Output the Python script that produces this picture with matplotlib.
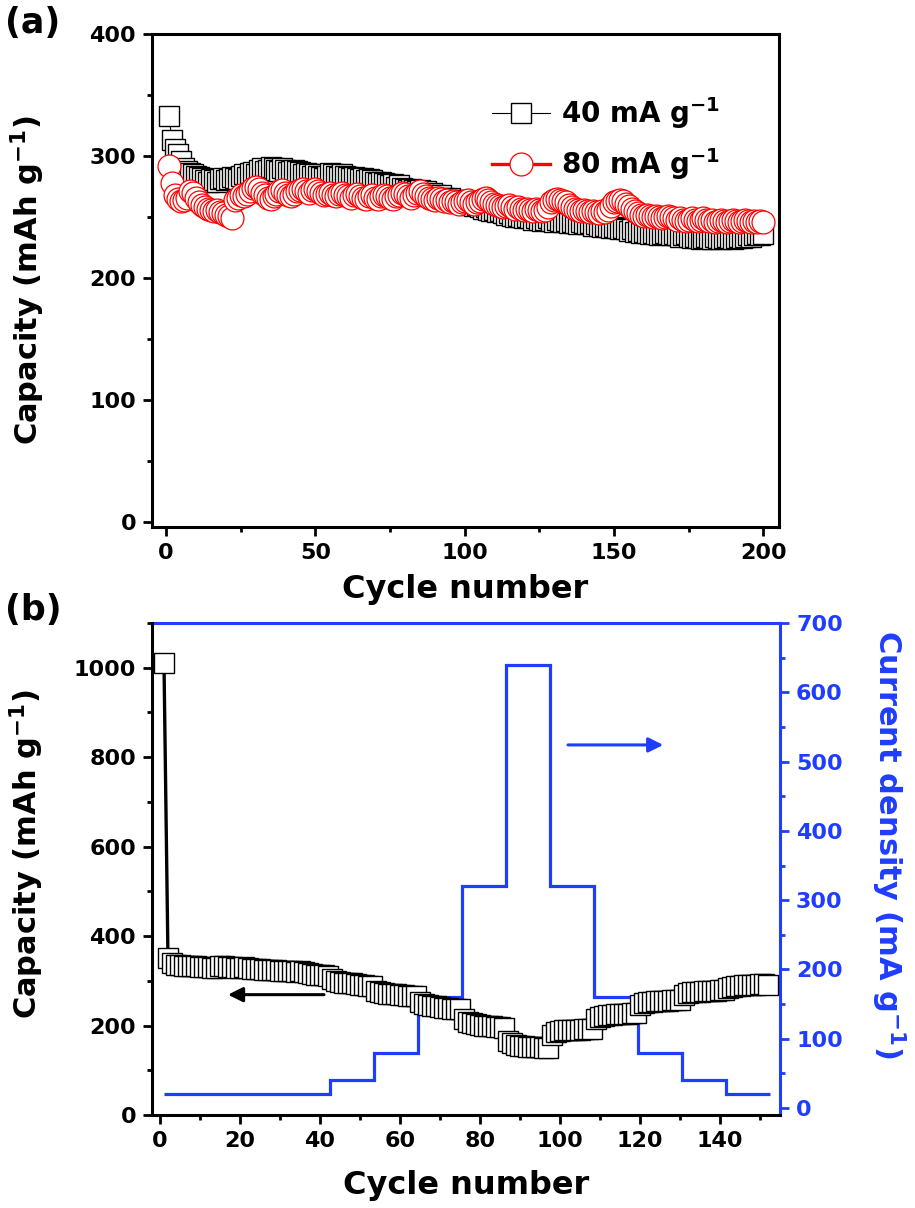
"""Cycling (a) and rate capability (b) plots"""

import numpy as np
import matplotlib
matplotlib.use("Agg")
import matplotlib.pyplot as plt
from matplotlib.ticker import MultipleLocator

# =============================================================================
# (a) cycling at 40 and 80 mA g-1
CAP_40 = [
    333, 313, 306, 302, 296, 290, 288, 286, 285, 284,
    283, 282, 280, 279, 281, 280, 279, 281, 282, 280,
    281, 283, 282, 281, 284, 285, 283, 286, 287, 285,
    289, 290, 288, 289, 291, 290, 289, 288, 290, 289,
    287, 288, 289, 288, 287, 285, 286, 285, 284, 285,
    284, 283, 282, 284, 286, 285, 284, 283, 285, 284,
    283, 282, 283, 282, 281, 282, 280, 281, 280, 279,
    278, 279, 278, 277, 276, 277, 275, 276, 274, 273,
    272, 273, 272, 271, 272, 270, 271, 269, 270, 268,
    267, 268, 266, 265, 266, 264, 263, 264, 262, 261,
    262, 260, 259, 260, 258, 257, 258, 256, 255, 256,
    254, 255, 253, 252, 253, 251, 250, 251, 250, 249,
    250, 249, 248, 249, 248, 247, 248, 249, 247, 246,
    248, 247, 246, 247, 245, 246, 245, 244, 246, 245,
    244, 245, 243, 244, 243, 242, 243, 242, 241, 242,
    241, 240, 241, 240, 239, 240, 238, 239, 237, 238,
    237, 236, 237, 236, 235, 236, 237, 236, 235, 236,
    235, 234, 235, 236, 234, 233, 234, 233, 232, 233,
    234, 233, 232, 234, 233, 232, 233, 234, 233, 232,
    233, 234, 233, 234, 235, 234, 235, 236, 235, 236,
]
CAP_80 = [
    292, 278, 268, 265, 263, 264, 266, 271, 270, 266,
    262, 260, 258, 257, 256, 255, 256, 254, 253, 252,
    251, 249, 264, 266, 268, 267, 269, 271, 274, 275,
    273, 270, 268, 266, 265, 267, 269, 271, 272, 270,
    268, 267, 269, 271, 272, 273, 271, 270, 272, 273,
    271, 270, 268, 269, 270, 268, 267, 269, 270, 268,
    267, 266, 268, 269, 267, 266, 265, 267, 268, 266,
    265, 267, 268, 267, 266, 265, 267, 268, 270, 269,
    267, 266, 268, 270, 271, 269, 267, 266, 265, 264,
    266, 265, 263, 264, 262, 263, 262, 261, 262, 263,
    264, 262, 261, 262, 263, 265, 266, 264, 262, 261,
    260, 259, 258, 259, 260, 258, 257, 258, 257, 256,
    257, 256, 255, 257, 256, 255, 256, 258, 262, 264,
    265, 264, 263, 262, 260, 258, 257, 256, 255, 256,
    255, 254, 255, 254, 253, 255, 254, 256, 259, 262,
    263, 264, 263, 261, 259, 257, 255, 253, 252, 251,
    252, 251, 250, 251, 250, 249, 250, 251, 250, 249,
    248, 249, 248, 247, 248, 249, 248, 247, 248, 249,
    248, 247, 248, 246, 247, 248, 247, 246, 247, 248,
    247, 246, 247, 248, 247, 246, 247, 246, 247, 246,
]
CYCLES_A = np.arange(1, len(CAP_40) + 1)
LABELS_A = [r"40 mA g$^{-1}$", r"80 mA g$^{-1}$"]

# (b) rate capability
CAP_RATE = [
    1010, 350,
    340, 336, 335, 333, 334, 332, 333, 331, 330, 331,
    329, 328, 332, 333, 331, 330, 329, 328, 330, 329,
    327, 326, 327, 325, 324, 325, 324, 322, 323, 322,
    321, 320, 321, 319, 318, 316, 314, 313, 312, 310,
    304, 300, 298, 296, 295, 294, 292, 291, 290, 289, 288,
    278, 274, 272, 271, 270, 270, 269, 268, 267, 266, 265,
    252, 248, 246, 244, 243, 242, 240, 239, 238, 237, 236,
    214, 208, 205, 203, 201, 200, 199, 198, 197, 196, 195,
    165, 160, 157, 155, 154, 153, 152, 151, 151, 150, 150,
    178, 185, 188, 189, 190, 190, 191, 191, 192, 192, 193,
    215, 220, 222, 223, 224, 225, 225, 226, 226, 227, 227,
    245, 250, 252, 253, 254, 254, 255, 255, 256, 256, 257,
    268, 272, 274, 275, 276, 277, 277, 278, 278, 279, 279,
    283, 286, 288, 289, 290, 290, 291, 291, 292, 292, 290,
]
CYCLES_B = np.arange(1, len(CAP_RATE) + 1)
CURRENT_EDGES = [1, 42.5, 53.5, 64.5, 75.5, 86.5, 97.5, 108.5, 119.5,
                 130.5, 141.5, 152.5]
CURRENT = [20, 40, 80, 160, 320, 640, 320, 160, 80, 40, 20]

BLUE = "#1f3dff"
DPI = 100

# =============================================================================
plt.rcParams["font.family"] = "DejaVu Sans"
plt.rcParams["font.weight"] = "bold"
plt.rcParams["mathtext.default"] = "bf"
plt.rcParams["axes.linewidth"] = 2.2


def style_ticks(ax, color="black"):
    ax.tick_params(which="major", direction="out", length=6.5, width=2.0,
                   labelsize=16, pad=5, color=color, labelcolor=color)
    ax.tick_params(which="minor", direction="out", length=3.5, width=2.0,
                   color=color)


fig = plt.figure(figsize=(915 / DPI, 1208 / DPI), dpi=DPI)

# -----------------------------------------------------------------------------
# Panel (a)
ax = fig.add_axes([0.1661, 0.5637, 0.6853, 0.4081])
ax.plot(CYCLES_A, CAP_40, "-s", color="black", lw=0.8, ms=15,
        mfc="white", mec="black", mew=1.0, label=LABELS_A[0])
ax.plot(CYCLES_A, CAP_80, "-o", color="red", lw=2.4, ms=16.5,
        mfc="white", mec="red", mew=0.9, label=LABELS_A[1])
ax.set_xlim(-4.7, 205.3)
ax.set_ylim(-4, 400)
ax.xaxis.set_major_locator(MultipleLocator(50))
ax.xaxis.set_minor_locator(MultipleLocator(25))
ax.yaxis.set_major_locator(MultipleLocator(100))
ax.yaxis.set_minor_locator(MultipleLocator(50))
ax.tick_params(top=False, right=False)
style_ticks(ax)
ax.set_xlabel("Cycle number", fontsize=23, fontweight="bold")
ax.set_ylabel(r"Capacity (mAh g$^{-1}$)", fontsize=22, fontweight="bold")
ax.xaxis.set_label_coords(0.5, -0.095)
ax.yaxis.set_label_coords(-0.168, 0.5)
ax.legend(loc="upper left", bbox_to_anchor=(0.52, 0.905), frameon=False,
          fontsize=20, handlelength=2.1, handletextpad=0.4,
          labelspacing=0.55, borderpad=0)
fig.text(0.0355, 0.981, "(a)", fontsize=25, fontweight="bold",
         ha="center", va="center")

# -----------------------------------------------------------------------------
# Panel (b)
ax1 = fig.add_axes([0.1661, 0.0770, 0.6864, 0.4073])
ax2 = ax1.twinx()
ax1.set_zorder(ax2.get_zorder() + 1)
ax1.patch.set_visible(False)

ax2.stairs(CURRENT, CURRENT_EDGES, baseline=None, color=BLUE, lw=2.3)
ax1.plot(CYCLES_B, CAP_RATE, "-s", color="black", lw=2.4, ms=15,
         mfc="white", mec="black", mew=1.0)

ax1.set_xlim(-2, 155)
ax1.set_ylim(0, 1100)
ax2.set_ylim(-10, 700)
ax1.xaxis.set_major_locator(MultipleLocator(20))
ax1.xaxis.set_minor_locator(MultipleLocator(10))
ax1.yaxis.set_major_locator(MultipleLocator(200))
ax1.yaxis.set_minor_locator(MultipleLocator(100))
ax2.yaxis.set_major_locator(MultipleLocator(100))
ax2.yaxis.set_minor_locator(MultipleLocator(50))
style_ticks(ax1)
style_ticks(ax2, color=BLUE)

ax1.spines["top"].set_visible(False)
ax1.spines["right"].set_visible(False)
ax2.spines["left"].set_visible(False)
ax2.spines["bottom"].set_visible(False)
ax2.spines["right"].set_color(BLUE)
ax2.spines["top"].set_color(BLUE)

ax1.set_xlabel("Cycle number", fontsize=23, fontweight="bold")
ax1.set_ylabel(r"Capacity (mAh g$^{-1}$)", fontsize=22, fontweight="bold")
ax2.set_ylabel(r"Current density (mA g$^{-1}$)", fontsize=22,
               fontweight="bold", color=BLUE, rotation=270, va="center")
ax1.xaxis.set_label_coords(0.5, -0.112)
ax1.yaxis.set_label_coords(-0.168, 0.53)
ax2.yaxis.set_label_coords(1.172, 0.55)

# direction arrows
ax1.annotate("", xy=(17, 269), xytext=(41, 269),
             arrowprops=dict(arrowstyle="-|>", color="black", lw=2.2,
                             mutation_scale=22, shrinkA=0, shrinkB=0))
ax2.annotate("", xy=(125.8, 524), xytext=(102, 524),
             arrowprops=dict(arrowstyle="-|>", color=BLUE, lw=2.2,
                             mutation_scale=22, shrinkA=0, shrinkB=0))

fig.text(0.036, 0.495, "(b)", fontsize=25, fontweight="bold",
         ha="center", va="center")

plt.savefig("out.png", dpi=DPI)
